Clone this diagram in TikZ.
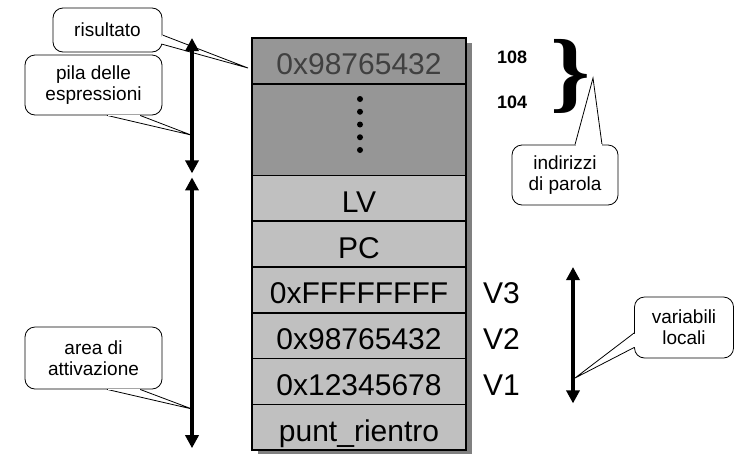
\documentclass[tikz,border=0pt]{standalone}
\usepackage{fontspec}
\setmainfont{Liberation Sans}
\newfontfamily\bracefont{Liberation Serif}
\usepackage{tikz}
\usetikzlibrary{
  arrows.meta,
  positioning,
  calc,
  backgrounds
}
\definecolor{stackdark}{RGB}{150,150,150}
\definecolor{stacklight}{RGB}{192,192,192}
\definecolor{stackshadow}{RGB}{128,128,128}
\definecolor{stackfaded}{RGB}{64,64,64}
\tikzset{
  stackCell/.style={
    rectangle,
    draw=black,
    line width=1.6pt,
    fill=stacklight,
    minimum width=214pt,
    minimum height=45.8pt,
    inner sep=0pt,
    outer sep=0pt,
    text height=28pt,
    text depth=0pt,
    font=\fontsize{30}{32}\selectfont
  },
  varLabel/.style={
    inner sep=0pt,
    text height=28pt,
    text depth=0pt,
    font=\fontsize{30}{32}\selectfont
  },
  addrLabel/.style={
    inner sep=0pt,
    font=\bfseries\fontsize{18}{20}\selectfont
  },
  bubble/.style={
    rectangle,
    rounded corners=10pt,
    draw=black,
    line width=0.8pt,
    fill=white,
    inner sep=0pt,
    align=center,
    font=\fontsize{19}{21}\selectfont
  },
  noteTail/.style={
    draw=black,
    line width=0.8pt,
    line join=miter
  },
  spanArrow/.style={
    {Triangle[length=13pt,width=13pt]}-{Triangle[length=13pt,width=13pt]},
    line width=4.5pt
  },
  addrBrace/.style={
    inner sep=0pt,
    outer sep=0pt
  }
}
% tail of a callout: base point, tip, base point
\newcommand{\bubbletail}[3]{
  \fill[white] #1 -- #2 -- #3 -- cycle;
  \draw[noteTail] #1 -- #2 -- #3;
  \draw[white, line width=1.8pt, shorten <=0.5pt, shorten >=0.5pt] #1 -- #3;
}

\begin{document}
\begin{tikzpicture}[x=1pt, y=-1pt]
  \useasboundingbox (0,0) rectangle (735,453);

  % the stack
  \node[stackCell, fill=stackdark, text=stackfaded] (ret) at (359,60.9) {0x98765432};
  \node[stackCell, fill=stackdark, minimum height=91.6pt, below=0pt of ret] (gap) {};
  \node[stackCell, below=0pt of gap] (lv) {LV};
  \node[stackCell, below=0pt of lv] (pc) {PC};
  \node[stackCell, below=0pt of pc] (vthree) {0xFFFFFFFF};
  \node[stackCell, below=0pt of vthree] (vtwo) {0x98765432};
  \node[stackCell, below=0pt of vtwo] (vone) {0x12345678};
  \node[stackCell, below=0pt of vone] (rientro) {punt\_rientro};
  \begin{pgfonlayer}{background}
    \fill[stackshadow] ([shift={(6,5)}]ret.north west) rectangle ([shift={(6,5)}]rientro.south east);
  \end{pgfonlayer}
  \foreach \k in {0,...,4}
    \fill ($(gap.center)+(1,-30.6+12.75*\k)$) circle (3);

  % names and addresses
  \node[varLabel, right=17pt of vthree] (nthree) {V3};
  \node[varLabel, right=17pt of vtwo] (ntwo) {V2};
  \node[varLabel, right=17pt of vone] (none) {V1};
  \node[addrLabel, right=31pt of ret, yshift=4pt] (addrHigh) {108};
  \node[addrLabel, below=32pt of addrHigh] (addrLow) {104};
  \node[addrBrace] (brace) at (571,76.5) {\resizebox*{40pt}{74pt}{\bracefont\bfseries\}}};

  % callouts
  \node[bubble, minimum width=109pt, minimum height=44pt] (resNote) at (107.5,30) {risultato};
  \node[bubble, minimum width=137pt, minimum height=60pt] (pilaNote) at (93.5,85) {pila delle\\espressioni};
  \node[bubble, minimum width=137pt, minimum height=62pt] (actNote) at (93.5,358) {area di\\attivazione};
  \node[bubble, minimum width=106pt, minimum height=60pt] (addrNote) at (565,175) {indirizzi\\di parola};
  \node[bubble, minimum width=99pt, minimum height=61pt] (localNote) at (684,327.5) {variabili\\locali};

  \coordinate (resTip) at (248,68);
  \coordinate (pilaTip) at (191,135);
  \coordinate (actTip) at (192,409);
  \coordinate (addrTip) at (593,78);
  \coordinate (localTip) at (575,378);

  \bubbletail{([yshift=-5pt]resNote.east)}{(resTip)}{([xshift=-1pt,yshift=-14pt]resNote.east)}
  \bubbletail{([xshift=13.5pt]pilaNote.south)}{(pilaTip)}{([xshift=46.5pt]pilaNote.south)}
  \bubbletail{([xshift=13.5pt]actNote.south)}{(actTip)}{([xshift=46.5pt]actNote.south)}
  \bubbletail{([xshift=10pt]addrNote.north)}{(addrTip)}{([xshift=37pt]addrNote.north)}
  \bubbletail{([yshift=-5.5pt]localNote.west)}{(localTip)}{([yshift=-20pt]localNote.west)}

  % extents
  \coordinate (pilaTop) at ([xshift=-60pt]ret.north west);
  \coordinate (pilaBot) at ([xshift=-60pt,yshift=2pt]lv.north west);
  \coordinate (actTop) at ([xshift=-60pt,yshift=-2pt]lv.north west);
  \coordinate (actBot) at ([xshift=-60pt,yshift=2pt]rientro.south west);
  \coordinate (localTop) at ([xshift=107pt]vthree.north east);
  \coordinate (localBot) at ([xshift=107pt,yshift=1pt]vone.south east);
  \draw[spanArrow] (pilaTop) -- (pilaBot);
  \draw[spanArrow] (actTop) -- (actBot);
  \draw[spanArrow] (localTop) -- (localBot);
\end{tikzpicture}
\end{document}
